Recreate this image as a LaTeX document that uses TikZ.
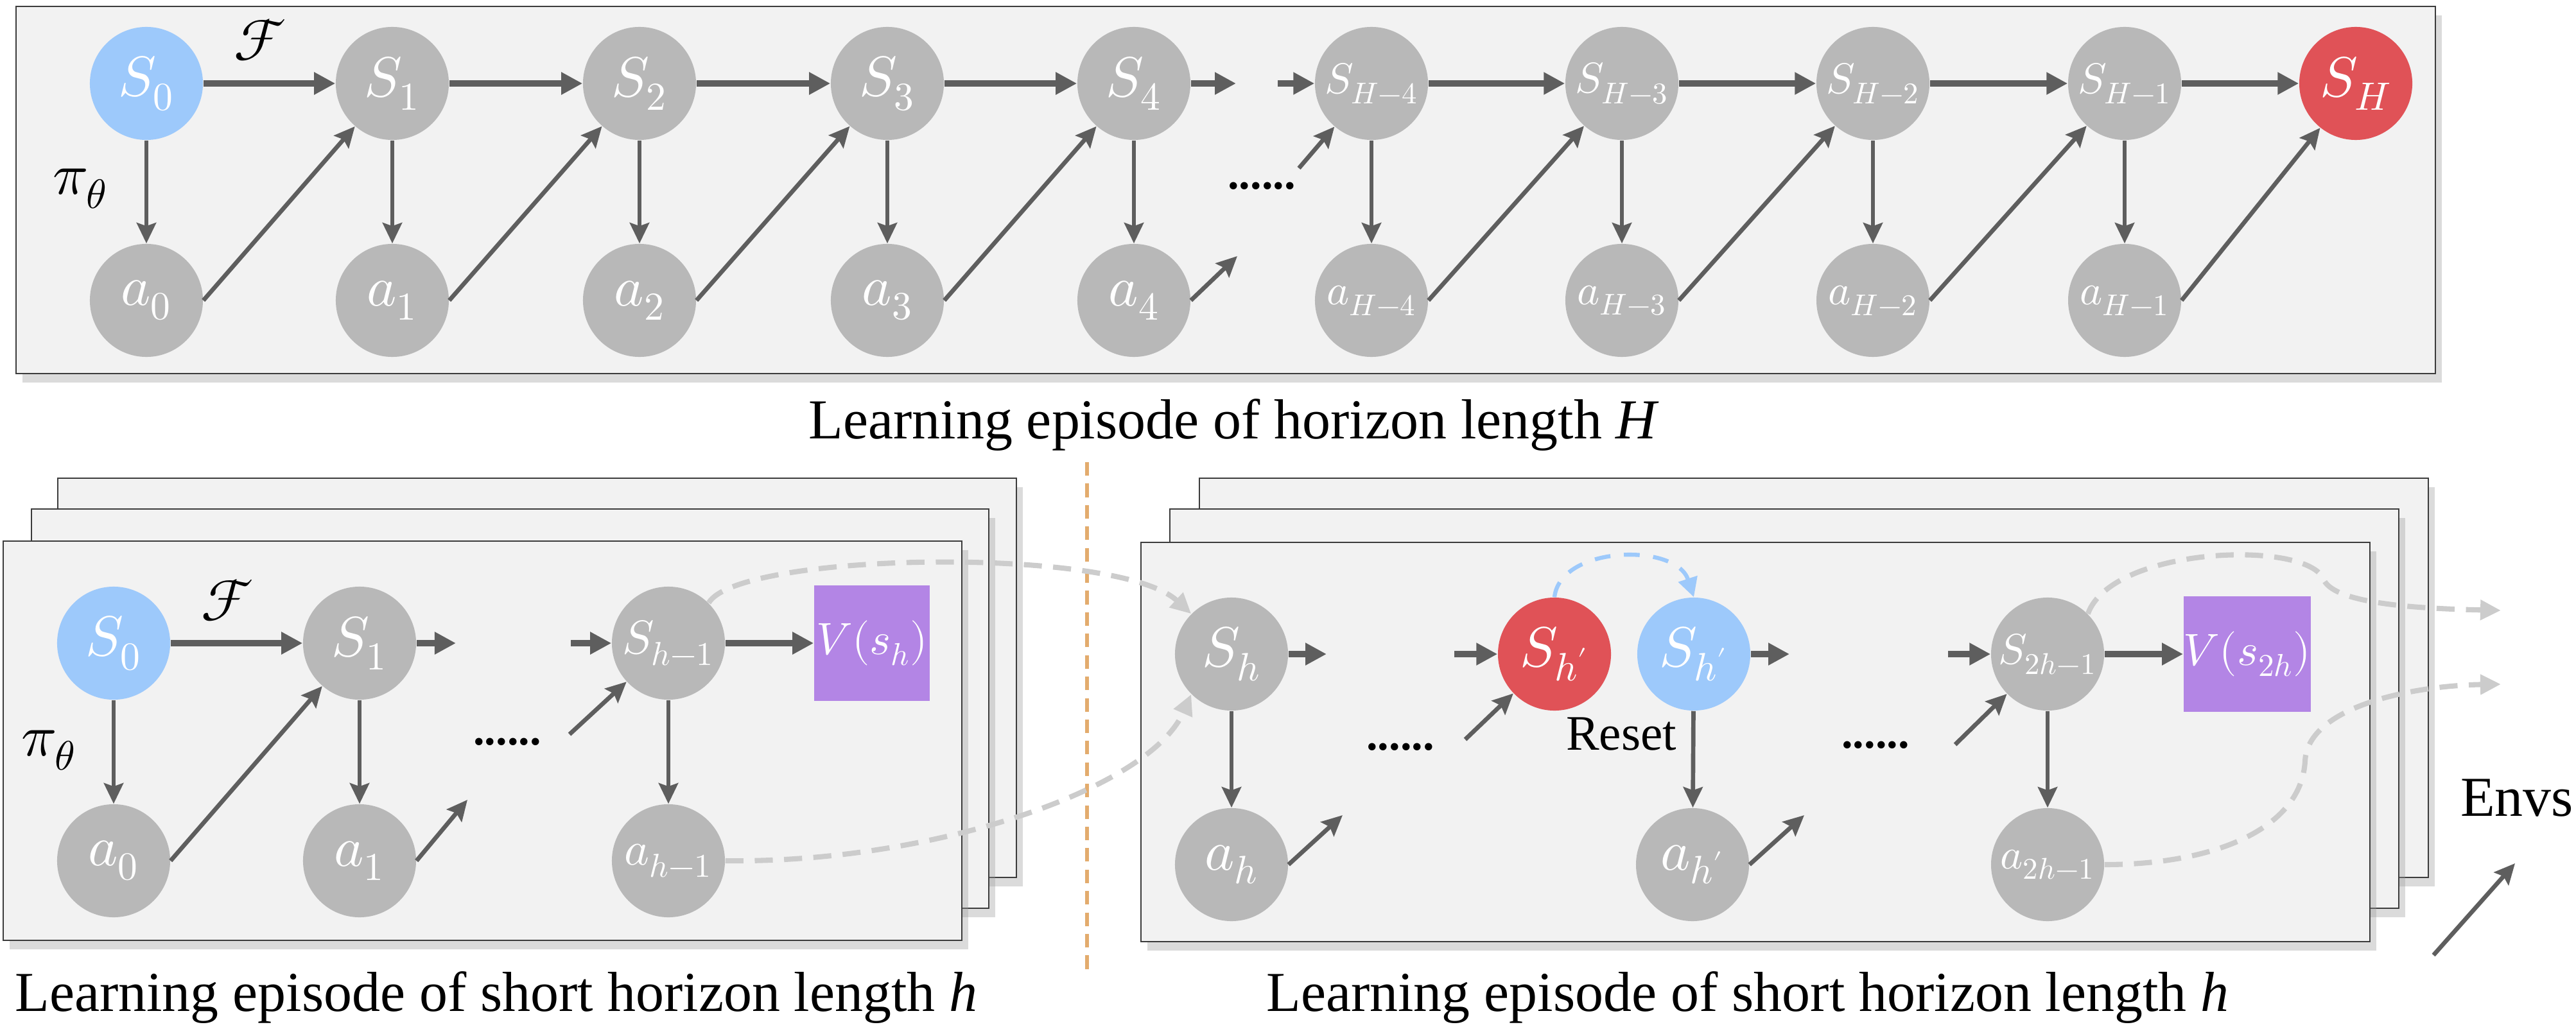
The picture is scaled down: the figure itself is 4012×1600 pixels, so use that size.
\documentclass[tikz,border=0pt]{standalone}
\usepackage{unicode-math}
\setmathfont{Latin Modern Math}
\newfontfamily\capfont{Liberation Serif}
\usetikzlibrary{arrows.meta,shadows}
\definecolor{nodegray}{HTML}{B8B8B8}
\definecolor{stblue}{HTML}{9DC9FB}
\definecolor{stred}{HTML}{E05257}
\definecolor{vpurple}{HTML}{B385E5}
\definecolor{panelfill}{HTML}{F2F2F2}
\definecolor{panelline}{HTML}{3C3C3C}
\definecolor{arrowgray}{HTML}{5E5E5E}
\definecolor{linkgray}{HTML}{CCCCCC}
\definecolor{sepline}{HTML}{E3AC6E}

\begin{document}
\begin{tikzpicture}[x=0.01cm,y=-0.01cm,
    st/.style={circle,fill=nodegray,minimum size=1.76cm,inner sep=0pt,text=white,font=\fontsize{25}{29}\selectfont},
    stmd/.style={st,font=\fontsize{21}{25}\selectfont},
    stsm/.style={st,font=\fontsize{19}{22}\selectfont},
    vbox/.style={rectangle,fill=vpurple,minimum size=1.8cm,inner sep=0pt,text=white,font=\fontsize{20}{24}\selectfont},
    panel/.style={draw=panelline,line width=0.6pt,fill=panelfill,drop shadow={shadow xshift=0.1cm,shadow yshift=-0.14cm,fill=black!40,opacity=0.35}},
    fwd/.style={draw=arrowgray,line width=2.6pt,-{Triangle[length=0.33cm,width=0.33cm]}},
    act/.style={draw=arrowgray,line width=1.9pt,-{Stealth[length=0.32cm,width=0.3cm,inset=0.05cm]}},
    link/.style={draw=linkgray,line width=2.3pt,dash pattern=on 8pt off 5pt,-{Triangle[length=0.32cm,width=0.3cm]}},
    resetlink/.style={draw=stblue,line width=1.8pt,dash pattern=on 7pt off 6pt,-{Triangle[length=0.3cm,width=0.3cm]}},
    lbl/.style={font=\fontsize{26}{30}\selectfont},
    captext/.style={font=\capfont\fontsize{25}{30}\selectfont,anchor=base},
    dotstext/.style={font=\capfont\bfseries\fontsize{20}{24}\selectfont}]
  \useasboundingbox (0,0) rectangle (4012,1600);

  \draw[panel] (25,10) rectangle (3793,582);
  \node[st,fill=stblue] (s0) at (228,130) {$S_0$};
  \node[st] (s1) at (611,130) {$S_1$};
  \node[st] (s2) at (996,130) {$S_2$};
  \node[st] (s3) at (1382,130) {$S_3$};
  \node[st] (s4) at (1766,130) {$S_4$};
  \node[stsm] (sH4) at (2136,130) {$S_{H-4}$};
  \node[stsm] (sH3) at (2526,130) {$S_{H-3}$};
  \node[stsm] (sH2) at (2917,130) {$S_{H-2}$};
  \node[stsm] (sH1) at (3309,130) {$S_{H-1}$};
  \node[st,fill=stred] (sH) at (3669,130) {$S_H$};
  \node[st] (a0) at (228,468) {$a_0$};
  \node[st] (a1) at (611,468) {$a_1$};
  \node[st] (a2) at (996,468) {$a_2$};
  \node[st] (a3) at (1382,468) {$a_3$};
  \node[st] (a4) at (1766,468) {$a_4$};
  \node[stsm] (aH4) at (2136,468) {$a_{H-4}$};
  \node[stsm] (aH3) at (2526,468) {$a_{H-3}$};
  \node[stsm] (aH2) at (2917,468) {$a_{H-2}$};
  \node[stsm] (aH1) at (3309,468) {$a_{H-1}$};
  \coordinate (t1) at (1925,130);
  \coordinate (t2) at (1990,130);
  \coordinate (t3) at (1927,399);
  \coordinate (t4) at (2023,262);
  \draw[fwd] (s0) -- (s1);
  \draw[fwd] (s1) -- (s2);
  \draw[fwd] (s2) -- (s3);
  \draw[fwd] (s3) -- (s4);
  \draw[fwd] (s4) -- (t1);
  \draw[fwd] (t2) -- (sH4);
  \draw[fwd] (sH4) -- (sH3);
  \draw[fwd] (sH3) -- (sH2);
  \draw[fwd] (sH2) -- (sH1);
  \draw[fwd] (sH1) -- (sH);
  \draw[act] (s0) -- (a0);
  \draw[act] (s1) -- (a1);
  \draw[act] (s2) -- (a2);
  \draw[act] (s3) -- (a3);
  \draw[act] (s4) -- (a4);
  \draw[act] (sH4) -- (aH4);
  \draw[act] (sH3) -- (aH3);
  \draw[act] (sH2) -- (aH2);
  \draw[act] (sH1) -- (aH1);
  \draw[act] (a0.east) -- (s1);
  \draw[act] (a1.east) -- (s2);
  \draw[act] (a2.east) -- (s3);
  \draw[act] (a3.east) -- (s4);
  \draw[act] (a4.east) -- (t3);
  \draw[act] (t4) -- (sH4);
  \draw[act] (aH4.east) -- (sH3);
  \draw[act] (aH3.east) -- (sH2);
  \draw[act] (aH2.east) -- (sH1);
  \draw[act] (aH1.east) -- (sH);
  \node[lbl] (fa) at (406,62) {$\mathcal{F}$};
  \node[lbl] (pa) at (125,294) {$\pi_\theta$};
  \node[dotstext] (da) at (1965,290) {......};
  \node[captext] (capH) at (1920,683) {Learning episode of horizon length {\itshape H}};

  \draw[sepline,line width=1.7pt,dash pattern=on 6pt off 3.5pt] (1693,720) -- (1693,1513);

  \draw[panel] (90,745) rectangle (1583,1367);
  \draw[panel] (49,793) rectangle (1540,1415);
  \draw[panel] (5,843) rectangle (1498,1465);
  \node[st,fill=stblue] (b0) at (177,1002) {$S_0$};
  \node[st] (b1) at (560,1002) {$S_1$};
  \node[stmd] (bh) at (1041,1002) {$S_{h-1}$};
  \node[vbox] (v1) at (1358,1002) {$V(s_h)$};
  \node[st] (c0) at (177,1341) {$a_0$};
  \node[st] (c1) at (560,1341) {$a_1$};
  \node[stmd] (ch) at (1041,1341) {$a_{h-1}$};
  \coordinate (u1) at (710,1002);
  \coordinate (u2) at (889,1002);
  \coordinate (u3) at (728,1246);
  \coordinate (u4) at (887,1144);
  \draw[fwd] (b0) -- (b1);
  \draw[fwd] (b1) -- (u1);
  \draw[fwd] (u2) -- (bh);
  \draw[fwd] (bh) -- (v1);
  \draw[act] (b0) -- (c0);
  \draw[act] (b1) -- (c1);
  \draw[act] (bh) -- (ch);
  \draw[act] (c0.east) -- (b1);
  \draw[act] (c1.east) -- (u3);
  \draw[act] (u4) -- (bh);
  \node[lbl] (fb) at (355,935) {$\mathcal{F}$};
  \node[lbl] (pb) at (76,1169) {$\pi_\theta$};
  \node[dotstext] (db) at (790,1156) {......};
  \node[captext] (capl) at (773,1575) {Learning episode of short horizon length {\itshape h}};

  \draw[panel] (1868,745) rectangle (3782,1367);
  \draw[panel] (1822,793) rectangle (3736,1415);
  \draw[panel] (1777,845) rectangle (3691,1467);
  \node[st] (rh) at (1918,1019) {$S_h$};
  \node[st,fill=stred] (rp) at (2421,1019) {$S_{h'}$};
  \node[st,fill=stblue] (rq) at (2638,1019) {$S_{h'}$};
  \node[stsm] (r2) at (3189,1019) {$S_{2h-1}$};
  \node[vbox] (v2) at (3500,1019) {$V(s_{2h})$};
  \node[st] (qh) at (1918,1347) {$a_h$};
  \node[st] (qp) at (2636,1347) {$a_{h'}$};
  \node[stsm] (q2) at (3189,1347) {$a_{2h-1}$};
  \coordinate (w1) at (2066,1019);
  \coordinate (w2) at (2265,1019);
  \coordinate (w3) at (2787,1019);
  \coordinate (w4) at (3034,1019);
  \coordinate (w5) at (2091,1270);
  \coordinate (w6) at (2282,1152);
  \coordinate (w7) at (2810,1270);
  \coordinate (w8) at (3045,1160);
  \draw[fwd] (rh) -- (w1);
  \draw[fwd] (w2) -- (rp);
  \draw[fwd] (rq) -- (w3);
  \draw[fwd] (w4) -- (r2);
  \draw[fwd] (r2) -- (v2);
  \draw[act] (rh) -- (qh);
  \draw[act] (rq) -- (qp);
  \draw[act] (r2) -- (q2);
  \draw[act] (qh.east) -- (w5);
  \draw[act] (w6) -- (rp);
  \draw[act] (qp.east) -- (w7);
  \draw[act] (w8) -- (r2);
  \draw[resetlink] (rp.north) .. controls (2430,850) and (2610,845) .. (rq.north);
  \node[font=\capfont\fontsize{22}{26}\selectfont,anchor=base] (reset) at (2525,1168) {Reset};
  \node[dotstext] (dc) at (2181,1164) {......};
  \node[dotstext] (dd) at (2921,1161) {......};
  \node[captext] (capr) at (2722,1575) {Learning episode of short horizon length {\itshape h}};

  \coordinate (o1) at (3895,951);
  \coordinate (o2) at (3895,1066);
  \draw[link] (bh.45) .. controls (1150,860) and (1740,850) .. (rh.135);
  \draw[link] (ch.east) .. controls (1450,1345) and (1790,1230) .. (rh.225);
  \draw[link] (r2.45) .. controls (3290,850) and (3600,840) .. (3620,905) .. controls (3640,940) and (3760,948) .. (o1);
  \draw[link] (q2.east) .. controls (3450,1347) and (3585,1290) .. (3590,1185) .. controls (3595,1100) and (3760,1068) .. (o2);

  \node[font=\capfont\fontsize{25}{30}\selectfont,anchor=base] (envs) at (3920,1271) {Envs};
  \coordinate (e1) at (3790,1488);
  \coordinate (e2) at (3917,1345);
  \draw[act] (e1) -- (e2);
\end{tikzpicture}
\end{document}
